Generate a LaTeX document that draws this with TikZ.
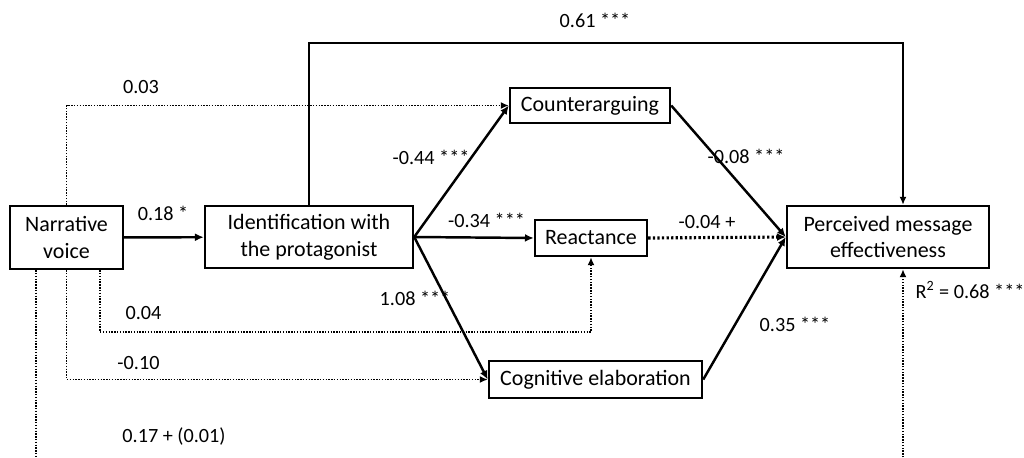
\documentclass[tikz,border=0pt]{standalone}
\usepackage{fontspec}
\setmainfont{Carlito}
\usetikzlibrary{arrows.meta, shapes}
\tikzstyle{box} = [rectangle, draw=black, line width=1.4pt, text centered, align=center, inner sep=0pt, font=\fontsize{12.5}{15.3}\selectfont]
\tikzstyle{lbl} = [font=\fontsize{11.5}{13}\selectfont, inner sep=0pt]
\tikzstyle{arrow} = [line width=1.4pt, -{Latex[length=5pt, width=4.5pt]}]
\tikzstyle{line} = [line width=0.9pt, -{Latex[length=4.5pt, width=4pt]}]
\tikzstyle{dotarrow} = [line width=0.9pt, dash pattern=on 0.8pt off 0.8pt, -{Latex[length=4.5pt, width=4pt]}]

\begin{document}
\begin{tikzpicture}[yscale=-1]

\useasboundingbox (0,0) rectangle (20.48,9.14);
\clip (0,0) rectangle (20.48,9.14);

\node at (1.33, 4.75) (voice) [box, minimum width=2.26cm, minimum height=1.26cm] {Narrative\\voice};
\node at (6.18, 4.74) (ident) [box, minimum width=4.16cm, minimum height=1.24cm] {Identification with\\the protagonist};

\node at (11.80, 2.11) (counter) [box, minimum width=3.2cm, minimum height=0.7cm] {Counterarguing};
\node at (11.82, 4.76) (react) [box, minimum width=2.24cm, minimum height=0.72cm] {Reactance};
\node at (11.91, 7.59) (elab) [box, minimum width=4.26cm, minimum height=0.74cm] {Cognitive elaboration};

\node at (17.76, 4.74) (effect) [box, minimum width=4.04cm, minimum height=1.24cm] {Perceived message\\effectiveness};

\coordinate (topright) at (18.06, 0.86);
\coordinate (low04) at (2.0, 6.64);
\coordinate (low17) at (0.72, 9.60);

\draw [arrow] (voice) -- (ident);
\draw [arrow] (ident.east) -- (counter.west);
\draw [arrow] (ident.east) -- (react.west);
\draw [arrow] (ident.east) -- (elab.west);
\draw [arrow] (counter.east) -- (effect.west);
\draw [arrow] (elab.east) -- (effect.west);
\draw [arrow, line width=1.8pt, dash pattern=on 1.3pt off 1.3pt] (react.east) -- (effect.west);
\draw [line] (ident.north) |- (topright) -- (topright |- effect.north);

\draw [dotarrow] (voice.north) |- (counter.west);
\draw [dotarrow] (voice.south -| low04) -- (low04) -| (react.south);
\draw [dotarrow] (voice.south) |- (elab.west);
\draw [dotarrow] (voice.south -| low17) -- (low17) -| ([xshift=0.3cm]effect.south);

\node at (11.90, 0.40) (l061) [lbl] {0.61 ***};
\node at (2.82, 1.74) (l003) [lbl] {0.03};
\node at (3.26, 4.26) (l018) [lbl] {0.18 *};
\node at (8.62, 3.14) (l044) [lbl] {-0.44 ***};
\node at (9.73, 4.40) (l034) [lbl] {-0.34 ***};
\node at (8.30, 5.96) (l108) [lbl] {1.08 ***};
\node at (14.92, 3.12) (l008) [lbl] {-0.08 ***};
\node at (14.14, 4.44) (l004p) [lbl] {-0.04 +};
\node at (15.90, 6.48) (l035) [lbl] {0.35 ***};
\node at (2.87, 6.26) (l004) [lbl] {0.04};
\node at (2.77, 7.27) (l010) [lbl] {-0.10};
\node at (3.48, 8.74) (l017) [lbl] {0.17 + (0.01)};
\node at (19.40, 5.80) (rsq) [lbl] {R\textsuperscript{2} = 0.68 ***};

\end{tikzpicture}
\end{document}
